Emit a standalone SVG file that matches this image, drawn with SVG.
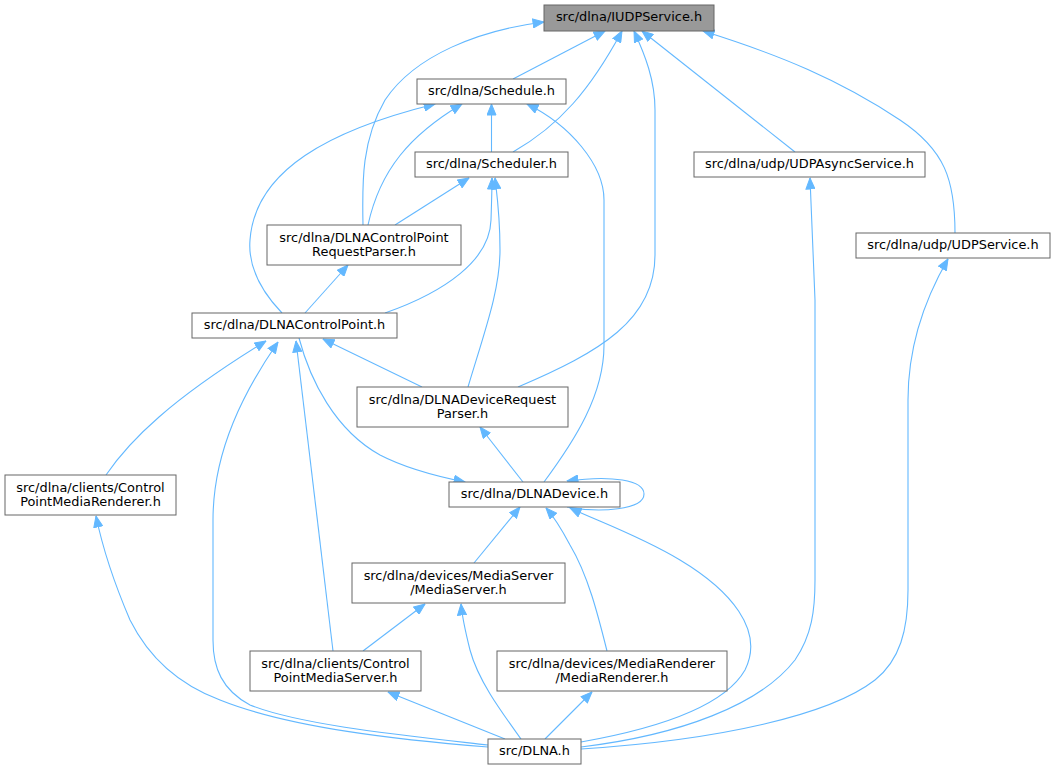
<svg xmlns="http://www.w3.org/2000/svg" width="1055" height="769" viewBox="0 0 1055 769">
<style>
.node rect{fill:#ffffff;stroke:#666666;stroke-width:1}
.node text{font-family:"DejaVu Sans",Verdana,sans-serif;font-size:12.9px;fill:#000000;text-anchor:middle}
#n_iudp rect{fill:#999999}
.edges path{fill:none;stroke:#63b8ff;stroke-width:1.1;marker-end:url(#arr)}
</style>
<defs>
<marker id="arr" markerUnits="userSpaceOnUse" markerWidth="12" markerHeight="10" viewBox="0 0 12 10" refX="11.5" refY="5" orient="auto">
<path d="M0.5,0.5 L11.5,5 L0.5,9.5 z" fill="#63b8ff" stroke="#63b8ff" stroke-width="1"/>
</marker>
</defs>
<rect width="1055" height="769" fill="#ffffff"/>
<g class="edges">
<path d="M363,225 C362,180 362,140 385,100 C415,55 480,30 544,22"/>
<path d="M513,79 L605,31"/>
<path d="M513,152 C560,125 590,90 622,31"/>
<path d="M518,387 C600,352 655,320 655,255 L655,110 C655,80 645,55 634,31"/>
<path d="M795,152 L642,31"/>
<path d="M955,233 C955,180 945,150 900,120 C840,80 780,55 703,31"/>
<path d="M491.5,152 L491.5,104"/>
<path d="M368,225 C380,170 410,135 462,104"/>
<path d="M282,313 C260,290 248,265 250,240 C255,170 330,130 435,104"/>
<path d="M544,482 C575,440 604,395 604,345 L604,200 C604,165 570,125 527,104"/>
<path d="M395,225 L469,178"/>
<path d="M385,313 C445,292 490,260 491,220 C491.5,205 492,190 492,178"/>
<path d="M468,387 C485,330 500,290 500,250 C500,215 497,195 495,178"/>
<path d="M305,313 L348,265"/>
<path d="M106,475 C130,440 170,400 266,341"/>
<path d="M488,745 C400,735 300,725 250,705 C222,690 213,668 213,640 L213,520 C213,450 245,390 278,342"/>
<path d="M333,651 L296,341"/>
<path d="M299,338 C310,380 335,430 380,455 C405,468 435,476 465,482"/>
<path d="M422,387 L323,339"/>
<path d="M523,482 L480,427"/>
<path d="M567,507 C600,513 644,510 644,494 C644,480 612,475 567,481"/>
<path d="M474,563 L520,507"/>
<path d="M607,651 C598,615 588,575 570,545 C562,530 555,518 546,508"/>
<path d="M581,742 C660,728 725,705 745,670 C765,630 730,590 680,560 C640,536 600,522 570,508"/>
<path d="M363,651 L425,604"/>
<path d="M521,739 C500,710 478,680 470,650 C465,630 462,615 461,604"/>
<path d="M505,739 L388,692"/>
<path d="M545,739 L592,692"/>
<path d="M488,747 C400,740 290,728 220,700 C180,685 150,660 130,620 C115,585 103,550 96,516"/>
<path d="M581,747 C680,735 760,705 795,660 C812,635 815,610 815,580 L815,300 L810,178"/>
<path d="M581,749 C720,740 830,715 875,680 C900,660 908,630 908,590 L908,400 C908,340 930,290 948,259"/>
</g>
<g id="n_iudp" class="node"><rect x="544" y="5" width="170" height="26"/><text x="629" y="21">src/dlna/IUDPService.h</text></g>
<g id="n_schedule" class="node"><rect x="417" y="79" width="149" height="25"/><text x="491.5" y="95">src/dlna/Schedule.h</text></g>
<g id="n_scheduler" class="node"><rect x="415" y="152" width="153" height="25"/><text x="491.5" y="168">src/dlna/Scheduler.h</text></g>
<g id="n_udpasync" class="node"><rect x="694" y="152" width="231" height="25"/><text x="809.5" y="168">src/dlna/udp/UDPAsyncService.h</text></g>
<g id="n_udpservice" class="node"><rect x="856" y="233" width="194" height="25"/><text x="953" y="249">src/dlna/udp/UDPService.h</text></g>
<g id="n_cpreqparser" class="node"><rect x="267" y="225" width="194" height="40"/><text x="364" y="241.5">src/dlna/DLNAControlPoint</text><text x="364" y="256">RequestParser.h</text></g>
<g id="n_controlpoint" class="node"><rect x="192" y="313" width="205" height="25"/><text x="294.5" y="329">src/dlna/DLNAControlPoint.h</text></g>
<g id="n_devreqparser" class="node"><rect x="357" y="387" width="211" height="40"/><text x="462.5" y="403.5">src/dlna/DLNADeviceRequest</text><text x="462.5" y="418">Parser.h</text></g>
<g id="n_device" class="node"><rect x="449" y="482" width="171" height="25"/><text x="534.5" y="498">src/dlna/DLNADevice.h</text></g>
<g id="n_cpmr" class="node"><rect x="5" y="475" width="171" height="40"/><text x="90.5" y="491.5">src/dlna/clients/Control</text><text x="90.5" y="506">PointMediaRenderer.h</text></g>
<g id="n_mediaserver" class="node"><rect x="352" y="563" width="213" height="40"/><text x="458.5" y="579.5">src/dlna/devices/MediaServer</text><text x="458.5" y="594">/MediaServer.h</text></g>
<g id="n_cpms" class="node"><rect x="250" y="651" width="171" height="40"/><text x="335.5" y="667.5">src/dlna/clients/Control</text><text x="335.5" y="682">PointMediaServer.h</text></g>
<g id="n_mediarenderer" class="node"><rect x="497" y="651" width="230" height="40"/><text x="612" y="667.5">src/dlna/devices/MediaRenderer</text><text x="612" y="682">/MediaRenderer.h</text></g>
<g id="n_dlna" class="node"><rect x="488" y="739" width="93" height="25"/><text x="534.5" y="755">src/DLNA.h</text></g>
</svg>
